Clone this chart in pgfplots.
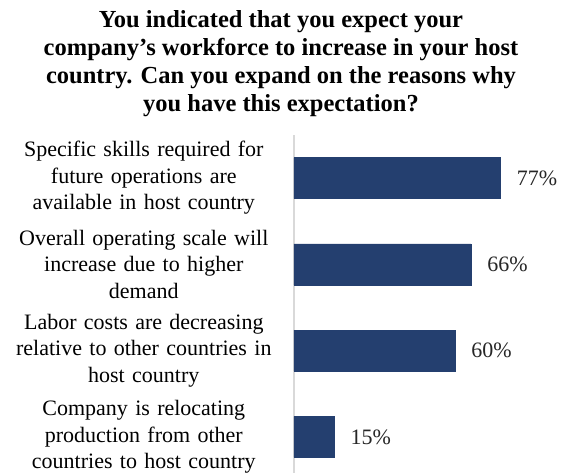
\documentclass[border=0pt]{standalone}
\usepackage{pgfplots}
\pgfplotsset{compat=1.18}
\usepackage{fontspec}
\setmainfont{Liberation Serif}
\definecolor{barblue}{HTML}{243F6F}
\definecolor{axisgray}{HTML}{D9D9D9}
\begin{document}
\begin{tikzpicture}
\begin{axis}[
  name=ax,
  xbar,
  scale only axis,
  width=268pt,
  height=345pt,
  xmin=0, xmax=100,
  ymin=-0.5, ymax=3.5,
  y dir=reverse,
  bar width=41pt,
  axis x line=none,
  axis y line*=left,
  y axis line style={draw=axisgray, line width=1.6pt},
  ytick={0,1,2,3},
  yticklabels={
    {Specific skills required for\\future operations are\\available in host country},
    {Overall operating scale will\\increase due to higher\\demand},
    {Labor costs are decreasing\\relative to other countries in\\host country},
    {Company is relocating\\production from other\\countries to host country}},
  major tick length=0pt,
  yticklabel style={text width=280pt, align=center, inner sep=0pt, xshift=-10pt,
    font=\fontsize{22}{26.5}\selectfont},
  /pgf/number format/assume math mode=true,
  nodes near coords={\pgfmathprintnumber{\pgfplotspointmeta}\%},
  point meta=x,
  nodes near coords style={font=\fontsize{22}{26}\selectfont, color=black!85, xshift=13pt},
  clip=false,
]
\addplot[fill=barblue, draw=barblue] coordinates {(77,0) (66,1) (60,2) (15,3)};
\end{axis}
\node[anchor=north, align=center, font=\bfseries\fontsize{24.5}{28}\selectfont]
  at ([xshift=-13pt, yshift=128pt]ax.north west)
  {You indicated that you expect your\\company’s workforce to increase in your host\\country. Can you expand on the reasons why\\you have this expectation?};
\pgfresetboundingbox
\path ([shift={(-294pt,7pt)}]ax.south west) rectangle ([shift={(0pt,135pt)}]ax.north east);
\end{tikzpicture}
\end{document}
